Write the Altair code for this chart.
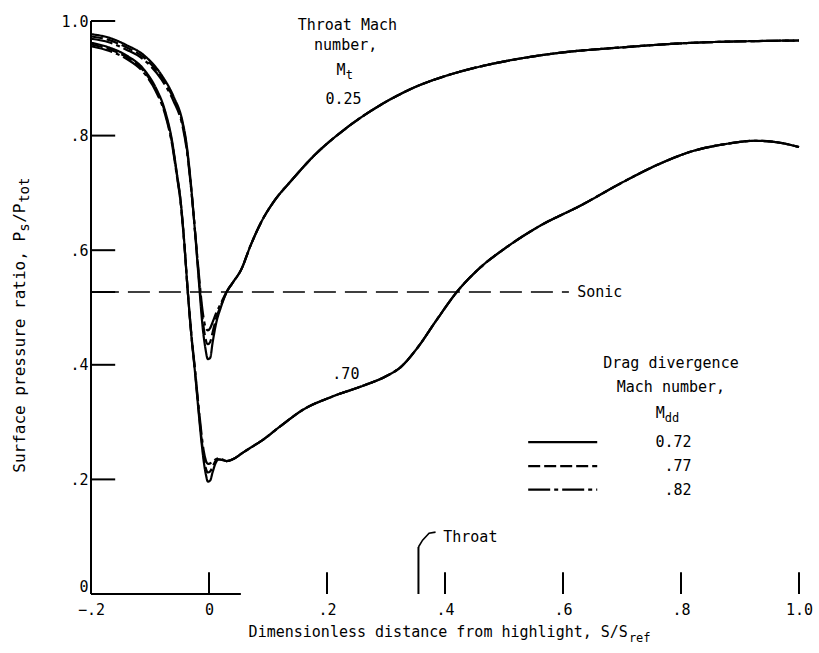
import altair as alt
import pandas as pd

FONT = "DejaVu Sans Mono"

# ---------------- data ----------------
MDD = ["0.72", ".77", ".82"]
DASHES = [[1, 0], [12, 4], [22, 4, 4, 4]]

# Throat Mach number 0.25
X25 = [-0.2, -0.17, -0.14, -0.11, -0.08, -0.06, -0.045, -0.038, -0.033, -0.028,
       -0.022, -0.016, -0.011, -0.006, -0.002, 0.002, 0.006, 0.012, 0.02, 0.03,
       0.04, 0.055, 0.07, 0.09, 0.11, 0.14, 0.18, 0.23, 0.29, 0.35,
       0.41, 0.47, 0.53, 0.59, 0.70, 0.82, 0.93, 1.0]
Y25_072 = [0.977, 0.971, 0.958, 0.940, 0.905, 0.868, 0.825, 0.785, 0.740, 0.685,
           0.610, 0.530, 0.468, 0.428, 0.410, 0.412, 0.438, 0.472, 0.500, 0.527,
           0.543, 0.567, 0.607, 0.652, 0.685, 0.722, 0.767, 0.811, 0.853, 0.885,
           0.907, 0.923, 0.935, 0.944, 0.954, 0.962, 0.965, 0.966]
Y25_077 = [0.973, 0.967, 0.954, 0.936, 0.901, 0.864, 0.821, 0.781, 0.737, 0.684,
           0.612, 0.538, 0.482, 0.446, 0.436, 0.440, 0.456, 0.481, 0.503, 0.527,
           0.543, 0.567, 0.607, 0.652, 0.685, 0.722, 0.767, 0.811, 0.853, 0.885,
           0.907, 0.923, 0.935, 0.944, 0.954, 0.962, 0.965, 0.966]
Y25_082 = [0.969, 0.963, 0.950, 0.932, 0.897, 0.860, 0.817, 0.777, 0.734, 0.683,
           0.614, 0.545, 0.495, 0.466, 0.460, 0.464, 0.474, 0.490, 0.507, 0.528,
           0.543, 0.567, 0.607, 0.652, 0.685, 0.722, 0.767, 0.811, 0.853, 0.885,
           0.907, 0.923, 0.935, 0.944, 0.954, 0.962, 0.965, 0.966]

# Throat Mach number 0.70
X70 = [-0.2, -0.17, -0.14, -0.11, -0.09, -0.075, -0.062, -0.055, -0.048, -0.042,
       -0.036, -0.03, -0.024, -0.018, -0.013, -0.009, -0.005, -0.002, 0.002, 0.006,
       0.011, 0.016, 0.022, 0.03, 0.042, 0.055, 0.07, 0.09, 0.12, 0.16,
       0.21, 0.26, 0.30, 0.325, 0.355, 0.385, 0.42, 0.46, 0.50, 0.56,
       0.63, 0.70, 0.76, 0.82, 0.88, 0.925, 0.965, 1.0]
Y70_072 = [0.962, 0.954, 0.940, 0.915, 0.883, 0.845, 0.787, 0.738, 0.685, 0.615,
           0.528, 0.452, 0.390, 0.322, 0.268, 0.232, 0.207, 0.196, 0.198, 0.212,
           0.228, 0.235, 0.234, 0.232, 0.236, 0.245, 0.255, 0.268, 0.292, 0.322,
           0.345, 0.363, 0.380, 0.396, 0.432, 0.477, 0.527, 0.570, 0.602, 0.642,
           0.678, 0.718, 0.749, 0.773, 0.786, 0.791, 0.788, 0.780]
Y70_077 = [0.959, 0.951, 0.937, 0.912, 0.880, 0.842, 0.784, 0.736, 0.684, 0.614,
           0.528, 0.453, 0.392, 0.326, 0.274, 0.240, 0.218, 0.212, 0.214, 0.222,
           0.232, 0.235, 0.234, 0.232, 0.236, 0.245, 0.255, 0.268, 0.292, 0.322,
           0.345, 0.363, 0.380, 0.396, 0.432, 0.477, 0.527, 0.570, 0.602, 0.642,
           0.678, 0.718, 0.749, 0.773, 0.786, 0.791, 0.788, 0.780]
Y70_082 = [0.956, 0.948, 0.934, 0.909, 0.877, 0.839, 0.781, 0.733, 0.682, 0.613,
           0.529, 0.455, 0.395, 0.331, 0.282, 0.250, 0.232, 0.227, 0.228, 0.230,
           0.235, 0.237, 0.235, 0.232, 0.236, 0.245, 0.255, 0.268, 0.292, 0.322,
           0.345, 0.363, 0.380, 0.396, 0.432, 0.477, 0.527, 0.570, 0.602, 0.642,
           0.678, 0.718, 0.749, 0.773, 0.786, 0.791, 0.788, 0.780]

SONIC = 0.527
THROAT = 0.355
X_TICKS = [-0.2, 0.0, 0.2, 0.4, 0.6, 0.8, 1.0]
Y_TICKS = [0.0, 0.2, 0.4, 0.6, 0.8, 1.0]
Y_INNER_TICKS = [0.2, 0.4, SONIC, 0.6, 0.8, 1.0]
X_INNER_TICKS = [0.0, 0.2, 0.4, 0.6, 0.8, 1.0]
LEGEND_Y = [0.265, 0.223, 0.182]

# ---------------- tables ----------------
rows = []
for fam, xs, ylists in [("0.25", X25, [Y25_072, Y25_077, Y25_082]),
                        ("0.70", X70, [Y70_072, Y70_077, Y70_082])]:
    for mdd, ys in zip(MDD, ylists):
        for i, (xv, yv) in enumerate(zip(xs, ys)):
            rows.append({"x": xv, "y": yv, "series": fam + "|" + mdd, "mdd": mdd, "i": i})
curves = pd.DataFrame(rows)

xscale = alt.Scale(domain=[-0.2, 1.0], nice=False, zero=False)
yscale = alt.Scale(domain=[0.0, 1.0], nice=False, zero=False)
lab_expr = "datum.value == 0 ? '0' : (datum.value == 1 ? '1.0' : replace(format(datum.value, '.1f'), '0.', '.'))"
xaxis = alt.Axis(values=X_TICKS, labelExpr=lab_expr, domain=False, ticks=False, grid=False,
                 title=None, labelFont=FONT, labelFontSize=15, labelColor="black",
                 labelPadding=8, labelFlush=False, labelOverlap=False, tickSize=0)
yaxis = alt.Axis(values=Y_TICKS, labelExpr=lab_expr, domain=False, ticks=False, grid=False,
                 title=None, labelFont=FONT, labelFontSize=15, labelColor="black",
                 labelPadding=3, labelFlush=False, labelOverlap=False, tickSize=0,
                 labelBaseline={"condition": {"test": "datum.value == 0", "value": "bottom"},
                                "value": "middle"})


def X(f="x"):
    return alt.X(f, type="quantitative", scale=xscale, axis=xaxis)


def Y(f="y"):
    return alt.Y(f, type="quantitative", scale=yscale, axis=yaxis)


dash_scale = alt.Scale(domain=MDD, range=DASHES)

curve_layer = alt.Chart(curves).mark_line(color="black", strokeWidth=2.2, clip=False,
                                          interpolate="monotone").encode(
    x=X(), y=Y(),
    detail="series:N",
    order="i:Q",
    strokeDash=alt.StrokeDash("mdd:N", scale=dash_scale, legend=None),
)

legend_df = pd.DataFrame({"x": [0.541] * 3, "x2": [0.658] * 3, "y": LEGEND_Y, "mdd": MDD})
legend_lines = alt.Chart(legend_df).mark_rule(color="black", strokeWidth=2.2).encode(
    x=X(), x2="x2", y=Y(),
    strokeDash=alt.StrokeDash("mdd:N", scale=dash_scale, legend=None),
)

# frame pieces
yaxis_df = pd.DataFrame({"x": [-0.2], "y": [0.0], "y2": [1.0]})
yaxis_line = alt.Chart(yaxis_df).mark_rule(color="black", strokeWidth=2).encode(x=X(), y=Y(), y2="y2")
xaxis_df = pd.DataFrame({"x": [-0.2], "x2": [0.054], "y": [0.0]})
xaxis_line = alt.Chart(xaxis_df).mark_rule(color="black", strokeWidth=2).encode(x=X(), x2="x2", y=Y())

yt_df = pd.DataFrame({"x": [-0.2] * len(Y_INNER_TICKS), "x2": [-0.159] * len(Y_INNER_TICKS), "y": Y_INNER_TICKS})
yticks = alt.Chart(yt_df).mark_rule(color="black", strokeWidth=2).encode(x=X(), x2="x2", y=Y())
xt_df = pd.DataFrame({"x": X_INNER_TICKS, "y": [0.0] * len(X_INNER_TICKS), "y2": [0.038] * len(X_INNER_TICKS)})
xticks = alt.Chart(xt_df).mark_rule(color="black", strokeWidth=2).encode(x=X(), y=Y(), y2="y2")

throat_df = pd.DataFrame({"x": [THROAT], "y": [0.0], "y2": [0.082]})
throat_tick = alt.Chart(throat_df).mark_rule(color="black", strokeWidth=2).encode(x=X(), y=Y(), y2="y2")
leader_df = pd.DataFrame({"x": [0.355, 0.362, 0.373, 0.384], "y": [0.082, 0.094, 0.106, 0.108], "i": [0, 1, 2, 3]})
leader = alt.Chart(leader_df).mark_line(color="black", strokeWidth=1.6).encode(
    x=X(), y=Y(), order="i:Q")

sonic_df = pd.DataFrame({"x": [-0.19], "x2": [0.61], "y": [SONIC]})
sonic = alt.Chart(sonic_df).mark_rule(color="black", strokeWidth=1.6, strokeDash=[22, 9]).encode(
    x=X(), x2="x2", y=Y())


def texts(items, align, size=15, dx=0, dy=0, angle=0):
    df = pd.DataFrame(items, columns=["x", "y", "t"])
    return alt.Chart(df).mark_text(align=align, baseline="middle", font=FONT, fontSize=size,
                                   color="black", dx=dx, dy=dy, angle=angle).encode(
        x=X(), y=Y(), text="t:N")


centered = texts([
    (0.2345, 0.993, "Throat Mach"),
    (0.2316, 0.958, "number,"),
    (0.228, 0.864, "0.25"),
    (0.232, 0.384, ".70"),
    (0.783, 0.403, "Drag divergence"),
    (0.783, 0.361, "Mach number,"),
], "center")
lefts = texts([
    (0.624, SONIC, "Sonic"),
    (0.397, 0.100, "Throat"),
], "left")
rights = texts([
    (0.818, LEGEND_Y[0], MDD[0]),
    (0.818, LEGEND_Y[1], MDD[1]),
    (0.818, LEGEND_Y[2], MDD[2]),
    (0.2316, 0.9145, "M"),
    (0.7726, 0.316, "M"),
], "right")
subs = texts([
    (0.2316, 0.9145, "t"),
    (0.7726, 0.316, "dd"),
], "left", size=12, dy=5)

# axis titles
xtitle = texts([(0.710, -0.0663, "Dimensionless distance from highlight, S/S")], "right")
xtitle_sub = texts([(0.710, -0.0663, "ref")], "left", size=12, dx=1, dy=6)

YT = (-0.321, 0.632)
ytitle = texts([(YT[0], YT[1], "Surface pressure ratio, P")], "right", size=16, angle=270)
ytitle_s = texts([(YT[0], YT[1], "s")], "left", size=14, dy=5, angle=270)
ytitle_p = texts([(YT[0], YT[1], "/P")], "left", size=16, dx=9, angle=270)
ytitle_tot = texts([(YT[0], YT[1], "tot")], "left", size=14, dx=29, dy=5, angle=270)

chart = alt.layer(
    yaxis_line, xaxis_line, yticks, xticks, throat_tick, leader, sonic,
    curve_layer, legend_lines,
    centered, lefts, rights, subs, xtitle, xtitle_sub,
    ytitle, ytitle_s, ytitle_p, ytitle_tot,
).properties(
    width=708, height=573,
    padding={"left": 91, "top": 21, "right": 20, "bottom": 59},
    autosize=alt.AutoSizeParams(type="none"),
    background="white",
).configure_view(stroke=None)

chart.save("out.html", embed_options={"renderer": "svg", "actions": False})
